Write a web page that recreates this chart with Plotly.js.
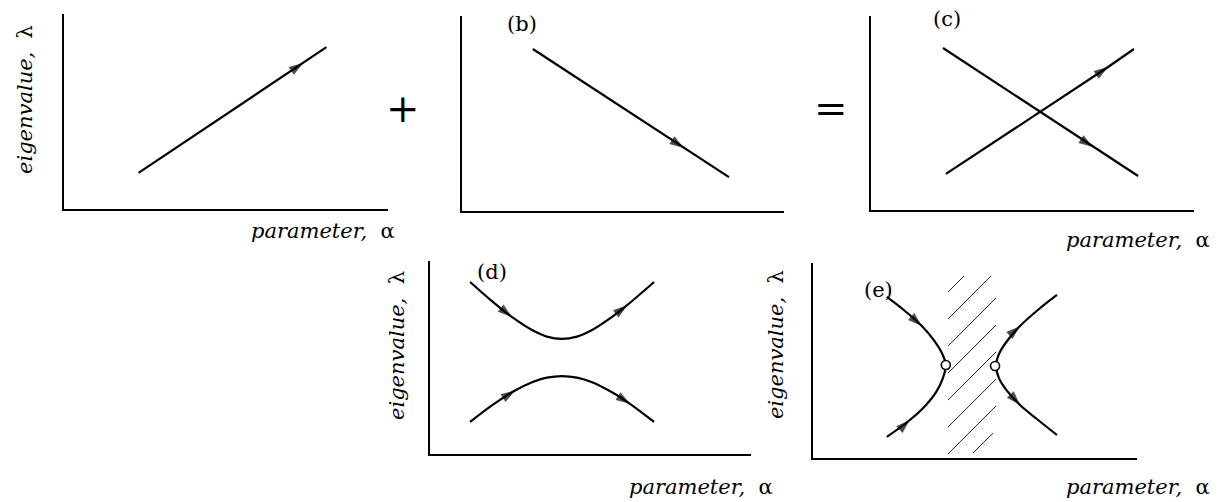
<!DOCTYPE html>
<html>
<head>
<meta charset="utf-8">
<script src="https://cdn.plot.ly/plotly-3.0.1.min.js"></script>
<style>
  html, body { margin: 0; padding: 0; background: #ffffff; }
  #chart { width: 1226px; height: 502px; }
</style>
</head>
<body>
<div id="chart"></div>
<script>
// Eigenvalue levels versus a parameter: two crossing levels (a)+(b)=(c),
// an avoided crossing (d) and a pair of levels merging at exceptional points (e).

// (a) rising level
const aX = [2.30, 7.38, 8.10];
const aY = [1.85, 7.49, 8.30];
const aArrows = [1];

// (b) falling level
const bX = [2.20, 6.89, 8.29];
const bY = [8.31, 3.23, 1.74];
const bArrows = [1];

// (c) the two levels crossing
const cFallX = [2.23, 6.87, 8.27];
const cFallY = [8.35, 3.25, 1.75];
const cFallArrows = [1];
const cRiseX = [2.32, 7.34, 8.14];
const cRiseY = [1.86, 7.37, 8.30];
const cRiseArrows = [1];

// (d) avoided crossing
const dUpperX = [1.25, 1.93, 2.55, 3.18, 3.64, 4.11, 4.58, 5.05, 5.67, 6.14, 6.98];
const dUpperY = [8.91, 7.92, 7.10, 6.42, 6.08, 5.96, 6.08, 6.42, 7.10, 7.71, 8.91];
const dUpperArrows = [2, 9];
const dLowerX = [1.25, 1.93, 2.65, 3.18, 3.64, 4.11, 4.58, 5.05, 5.67, 6.23, 6.98];
const dLowerY = [1.66, 2.52, 3.29, 3.72, 3.96, 4.04, 3.96, 3.72, 3.20, 2.60, 1.66];
const dLowerArrows = [2, 9];

// (e) levels meeting at branch points, complex in between
const eLeftX = [2.28, 2.84, 3.36, 3.73, 3.98, 4.10, 4.01, 3.80, 3.46, 2.99, 2.28];
const eLeftY = [8.26, 7.54, 6.77, 6.05, 5.38, 4.77, 4.10, 3.38, 2.67, 1.95, 1.08];
const eLeftArrows = [2, 9];
const eLeftFlipped = [9];
const eRightX = [7.53, 6.94, 6.39, 5.99, 5.74, 5.65, 5.74, 5.99, 6.39, 6.91, 7.53];
const eRightY = [8.36, 7.59, 6.77, 6.00, 5.33, 4.72, 4.10, 3.44, 2.72, 2.00, 1.18];
const eRightArrows = [2, 8];
const eRightFlipped = [2];
const eBranchX = [4.10, 5.62];
const eBranchY = [4.77, 4.72];

// hatched gap between the branch points (segments separated by null)
const hatchX = [4.17, 4.66, null, 4.17, 5.49, null, 4.17, 5.65, null, 4.17, 5.65, null,
                4.17, 5.65, null, 4.17, 5.65, null, 4.17, 5.65, null, 4.94, 5.56];
const hatchY = [8.51, 9.33, null, 7.13, 9.33, null, 5.74, 8.21, null, 4.36, 6.82, null,
                2.97, 5.44, null, 1.59, 4.05, null, 0.21, 2.67, null, 0.26, 1.28];

// panel placement on the page (paper fractions)
const panelX = [[0.0522, 0.3165], [0.3768, 0.6395], [0.7104, 0.9739], [0.3507, 0.6126], [0.6631, 0.9274]];
const panelY = [[0.5837, 0.9721], [0.5797, 0.9681], [0.5817, 0.9681], [0.0956, 0.4801], [0.0876, 0.4761]];

const INK = '#000000';
const SERIF = 'DejaVu Serif, Liberation Serif, serif';

function axId(n) { return n === 1 ? '' : String(n); }

function levelTrace(xs, ys, arrows, flipped, n, curved) {
  return {
    type: 'scatter',
    mode: 'lines+markers',
    x: xs, y: ys,
    xaxis: 'x' + axId(n), yaxis: 'y' + axId(n),
    line: { color: INK, width: 2.2, shape: curved ? 'spline' : 'linear' },
    marker: {
      symbol: 'arrow',
      size: xs.map((_, i) => arrows.includes(i) ? 15 : 0),
      angle: xs.map((_, i) => flipped.includes(i) ? 180 : 0),
      angleref: 'previous',
      color: INK,
      line: { width: 0 }
    },
    hoverinfo: 'skip',
    showlegend: false
  };
}

const data = [
  levelTrace(aX, aY, aArrows, [], 1, false),
  levelTrace(bX, bY, bArrows, [], 2, false),
  levelTrace(cFallX, cFallY, cFallArrows, [], 3, false),
  levelTrace(cRiseX, cRiseY, cRiseArrows, [], 3, false),
  levelTrace(dUpperX, dUpperY, dUpperArrows, [], 4, true),
  levelTrace(dLowerX, dLowerY, dLowerArrows, [], 4, true),
  {
    type: 'scatter', mode: 'lines', x: hatchX, y: hatchY,
    xaxis: 'x5', yaxis: 'y5', connectgaps: false,
    line: { color: '#222222', width: 1 },
    hoverinfo: 'skip', showlegend: false
  },
  levelTrace(eLeftX, eLeftY, eLeftArrows, eLeftFlipped, 5, true),
  levelTrace(eRightX, eRightY, eRightArrows, eRightFlipped, 5, true),
  {
    type: 'scatter', mode: 'markers', x: eBranchX, y: eBranchY,
    xaxis: 'x5', yaxis: 'y5',
    marker: { symbol: 'circle', size: 9, color: '#ffffff', line: { color: INK, width: 1.6 } },
    hoverinfo: 'skip', showlegend: false
  }
];

const layout = {
  width: 1226, height: 502,
  margin: { l: 0, r: 0, t: 0, b: 0 },
  paper_bgcolor: '#ffffff', plot_bgcolor: '#ffffff',
  showlegend: false,
  annotations: []
};

for (let n = 1; n <= 5; n++) {
  const common = {
    range: [0, 10], showline: true, linecolor: INK, linewidth: 2,
    showgrid: false, zeroline: false, showticklabels: false, ticks: '', fixedrange: true
  };
  layout['xaxis' + axId(n)] = Object.assign({}, common, { domain: panelX[n - 1], anchor: 'y' + axId(n) });
  layout['yaxis' + axId(n)] = Object.assign({}, common, { domain: panelY[n - 1], anchor: 'x' + axId(n) });
}

function note(text, x, y, size, opts) {
  layout.annotations.push(Object.assign({
    text: text, x: x, y: y, xref: 'paper', yref: 'paper',
    showarrow: false, xanchor: 'center', yanchor: 'middle',
    font: { family: SERIF, size: size, color: INK }
  }, opts || {}));
}

const xTitle = '<i>parameter,</i>\u00a0\u00a0α';
const yTitle = '<i>eigenvalue,</i>\u00a0\u00a0λ';

// axis titles
note(xTitle, 0.3238, 0.5398, 21, { xanchor: 'right' });
note(xTitle, 0.9886, 0.5219, 21, { xanchor: 'right' });
note(xTitle, 0.6321, 0.0299, 21, { xanchor: 'right' });
note(xTitle, 0.9886, 0.0299, 21, { xanchor: 'right' });
note(yTitle, 0.0204, 0.8008, 21, { textangle: -90 });
note(yTitle, 0.3238, 0.3127, 21, { textangle: -90 });
note(yTitle, 0.6330, 0.3127, 21, { textangle: -90 });

// panel tags
note('(b)', 0.4258, 0.9522, 21);
note('(c)', 0.7724, 0.9622, 21);
note('(d)', 0.4013, 0.4582, 21);
note('(e)', 0.7162, 0.4223, 21);

// operators between the top panels
note('+', 0.3287, 0.7849, 40);
note('=', 0.6778, 0.7849, 40);

Plotly.newPlot('chart', data, layout, { staticPlot: true, displayModeBar: false });
</script>
</body>
</html>
